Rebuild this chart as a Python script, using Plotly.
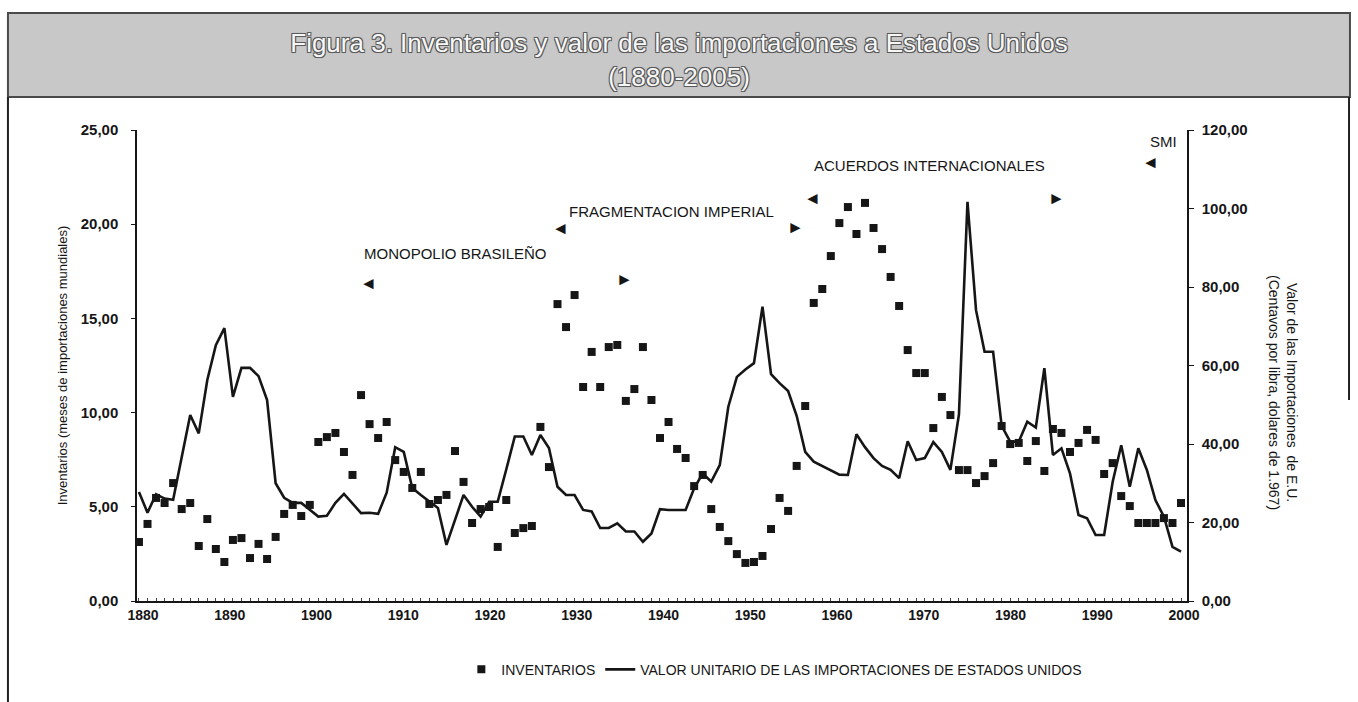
import plotly.graph_objects as go

# ---------------- data ----------------
years = list(range(1880, 2003))

inventarios = [
    3.13, 4.09, 5.47, 5.20, 6.26, 4.88, 5.20, 2.92, 4.35, 2.76,   # 1880-1889
    2.07, 3.24, 3.34, 2.28, 3.03, 2.23, 3.40, 4.62, 5.10, 4.51,   # 1890-1899
    5.10, 8.44, 8.70, 8.92, 7.91, 6.69, 10.93, 9.39, 8.65, 9.50,  # 1900-1909
    7.48, 6.85, 6.00, 6.85, 5.15, 5.36, 5.63, 7.96, 6.32, 4.14,   # 1910-1919
    4.88, 4.99, 2.87, 5.36, 3.61, 3.87, 3.98, 9.24, 7.11, 15.76,  # 1920-1929
    14.54, 16.24, 11.36, 13.22, 11.36, 13.48, 13.59, 10.62, 11.25, 13.48,  # 1930-1939
    10.67, 8.65, 9.50, 8.07, 7.59, 6.10, 6.69, 4.88, 3.93, 3.18,  # 1940-1949
    2.49, 2.02, 2.07, 2.39, 3.82, 5.47, 4.78, 7.17, 10.35, 15.82, # 1950-1959
    16.56, 18.31, 20.06, 20.91, 19.48, 21.13, 19.80, 18.68, 17.20, 15.66,  # 1960-1969
    13.32, 12.10, 12.10, 9.18, 10.83, 9.87, 6.95, 6.95, 6.26, 6.63,  # 1970-1979
    7.32, 9.29, 8.33, 8.39, 7.43, 8.49, 6.90, 9.13, 8.92, 7.91,   # 1980-1989
    8.39, 9.08, 8.55, 6.74, 7.32, 5.57, 5.04, 4.14, 4.14, 4.14,   # 1990-1999
    4.40, 4.14, 5.20,                                             # 2000-2002
]

valor_unitario = [
    27.8, 22.5, 27.2, 26.1, 25.8, 36.8, 47.4, 42.7, 56.3, 65.2,   # 1880-1889
    69.5, 52.0, 59.4, 59.4, 57.3, 51.2, 30.0, 26.3, 25.0, 25.0,   # 1890-1899
    23.2, 21.5, 21.7, 25.0, 27.3, 24.8, 22.4, 22.5, 22.2, 27.6,   # 1900-1909
    39.2, 38.0, 28.8, 27.0, 25.3, 23.7, 14.3, 20.6, 27.0, 24.0,   # 1910-1919
    21.5, 25.3, 25.3, 33.5, 41.9, 41.9, 37.2, 42.3, 39.0, 29.1,   # 1920-1929
    27.0, 27.0, 23.2, 22.8, 18.6, 18.6, 19.8, 17.7, 17.7, 15.1,   # 1930-1939
    17.2, 23.4, 23.2, 23.2, 23.2, 28.7, 32.5, 30.4, 34.6, 49.5,   # 1940-1949
    57.1, 59.0, 60.6, 75.0, 57.8, 55.5, 53.5, 47.2, 38.0, 35.5,   # 1950-1959
    34.4, 33.4, 32.2, 32.1, 42.5, 39.2, 36.4, 34.4, 33.4, 31.3,   # 1960-1969
    40.7, 35.9, 36.4, 40.5, 38.0, 33.4, 47.5, 101.7, 74.1, 63.5,  # 1970-1979
    63.5, 44.6, 40.6, 40.6, 45.7, 44.2, 59.3, 37.2, 38.9, 32.5,   # 1980-1989
    21.9, 21.1, 16.8, 16.8, 30.4, 39.7, 29.1, 38.9, 33.4, 25.7,   # 1990-1999
    21.5, 13.8, 12.6,                                             # 2000-2002
]

tick_years = [1880, 1890, 1900, 1910, 1920, 1930, 1940, 1950, 1960, 1970, 1980, 1990, 2000]
left_ticks = [0, 5, 10, 15, 20, 25]
right_ticks = [0, 20, 40, 60, 80, 100, 120]

period_labels = ["MONOPOLIO BRASILEÑO", "FRAGMENTACION IMPERIAL", "ACUERDOS INTERNACIONALES", "SMI"]

FONT = "Liberation Sans, Arial, sans-serif"
INK = "#161616"

fig = go.Figure()

fig.add_trace(go.Scatter(
    x=years, y=inventarios, mode="markers", name="INVENTARIOS",
    marker=dict(symbol="square", size=8, color=INK, line=dict(width=0)),
    xaxis="x", yaxis="y",
))
fig.add_trace(go.Scatter(
    x=years, y=valor_unitario, mode="lines",
    name="VALOR UNITARIO DE LAS IMPORTACIONES DE ESTADOS UNIDOS",
    line=dict(color=INK, width=2.6),
    xaxis="x", yaxis="y2",
))
# holder for the year-label axis (placed as printed in the original)
fig.add_trace(go.Scatter(x=[], y=[], xaxis="x2", yaxis="y", showlegend=False, hoverinfo="skip"))

annotations = [
    dict(x=1917.0, y=18.42, text=period_labels[0], font=dict(size=15)),
    dict(x=1906.9, y=16.83, text="◄", font=dict(size=17)),
    dict(x=1929.3, y=19.75, text="◄", font=dict(size=17)),
    dict(x=1936.9, y=17.04, text="►", font=dict(size=17)),
    dict(x=1942.4, y=20.65, text=period_labels[1], font=dict(size=15)),
    dict(x=1956.9, y=19.80, text="►", font=dict(size=17)),
    dict(x=1958.8, y=21.39, text="◄", font=dict(size=17)),
    dict(x=1972.6, y=23.09, text=period_labels[2], font=dict(size=15)),
    dict(x=1987.4, y=21.39, text="►", font=dict(size=17)),
    dict(x=1999.9, y=24.40, text=period_labels[3], font=dict(size=15)),
    dict(x=1998.4, y=23.25, text="◄", font=dict(size=17)),
]
for a in annotations:
    a.update(xref="x", yref="y", showarrow=False)
    a["font"].update(family=FONT, color=INK)

annotations.append(dict(
    xref="paper", yref="paper", x=1.1095, y=0.4416, showarrow=False,
    textangle=90,
    text="Valor de las Importaciones  de E.U.<br>(Centavos por libra, dolares de 1.967)",
    font=dict(family=FONT, size=14, color=INK),
))

outline = ("-1px -1px 0 #5a5a5a, 1px -1px 0 #5a5a5a, -1px 1px 0 #5a5a5a, "
           "1px 1px 0 #5a5a5a, 0 0 2px #777777")

fig.update_layout(
    width=1358, height=702,
    margin=dict(l=137, r=171, t=130, b=101, autoexpand=False),
    paper_bgcolor="white", plot_bgcolor="white",
    separators=",.",
    font=dict(family=FONT, color=INK, size=13),
    title=dict(
        text="Figura 3. Inventarios y valor de las importaciones a Estados Unidos<br>(1880-2005)",
        x=0.5, xanchor="center", y=1 - 52 / 702, yanchor="middle",
        font=dict(family=FONT, size=26, color="#f7f7f7", shadow=outline),
    ),
    xaxis=dict(
        range=[1879.77, 2002.70], showticklabels=False,
        showline=True, linecolor=INK, linewidth=1.5,
        tickmode="linear", tick0=1880, dtick=1, ticks="inside", ticklen=3,
        tickcolor="#444444", tickwidth=1,
        showgrid=False, zeroline=False,
    ),
    xaxis2=dict(
        overlaying="x", anchor="y", side="bottom",
        range=[1879.31, 2000.35], tickmode="array", tickvals=tick_years,
        ticktext=[str(t) for t in tick_years],
        ticks="", showline=False, showgrid=False, zeroline=False,
        tickfont=dict(family=FONT, size=14, color=INK, weight="bold"), ticklabelstandoff=4,
    ),
    yaxis=dict(
        range=[0, 25], tickmode="array", tickvals=left_ticks, tickformat=".2f",
        ticks="outside", ticklen=4, tickcolor=INK,
        showline=True, linecolor=INK, linewidth=1.5,
        showgrid=False, zeroline=False,
        tickfont=dict(family=FONT, size=15, color=INK, weight="bold"), ticklabelstandoff=10,
        title=dict(text="Inventarios (meses de importaciones mundiales)",
                   font=dict(family=FONT, size=13, color=INK), standoff=10),
    ),
    yaxis2=dict(
        overlaying="y", side="right", anchor="x",
        range=[0, 120], tickmode="array", tickvals=right_ticks, tickformat=".2f",
        ticks="outside", ticklen=5, tickcolor=INK,
        showline=True, linecolor=INK, linewidth=1.5,
        showgrid=False, zeroline=False,
        tickfont=dict(family=FONT, size=15, color=INK, weight="bold"), ticklabelstandoff=5,
    ),
    legend=dict(
        orientation="h", x=0.607, xanchor="center", y=-0.146, yanchor="middle",
        font=dict(family=FONT, size=14, color=INK), bgcolor="rgba(0,0,0,0)",
        itemwidth=30,
    ),
    annotations=annotations,
    shapes=[
        dict(type="rect", xref="paper", yref="paper", x0=-0.1229, x1=1.1552, y0=1.0701, y1=1.2484,
             fillcolor="#c8c8c8", line=dict(color="#4a4a4a", width=2), layer="below"),
        dict(type="line", xref="paper", yref="paper", x0=-0.1229, x1=-0.1229, y0=1.0701, y1=-0.2144,
             line=dict(color="#222222", width=2)),
        dict(type="line", xref="paper", yref="paper", x0=1.1543, x1=1.1543, y0=1.0701, y1=0.4268,
             line=dict(color="#222222", width=2)),
    ],
    showlegend=True,
)

fig.write_html("out.html", config={"displayModeBar": False},
               post_script="document.body.style.margin='0';")
